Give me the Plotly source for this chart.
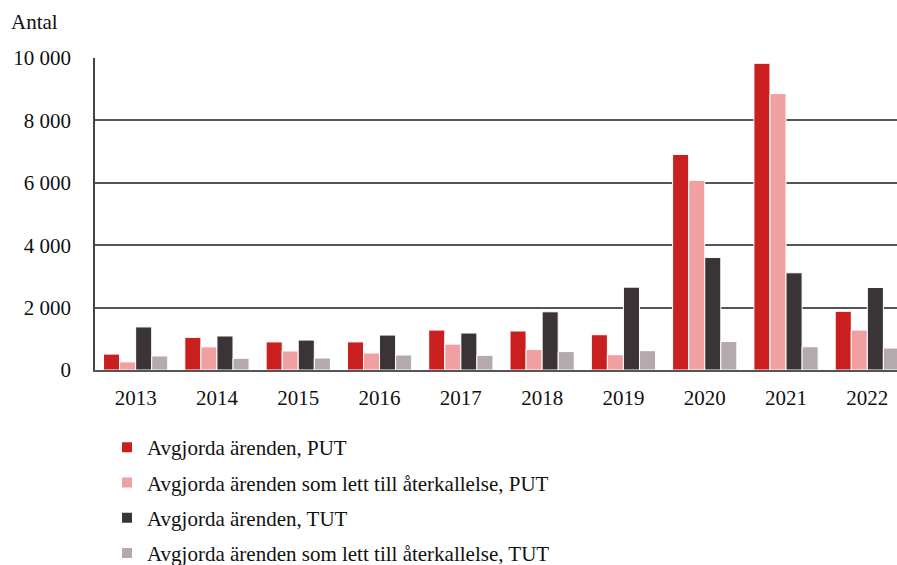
import plotly.graph_objects as go

years = ["2013", "2014", "2015", "2016", "2017", "2018", "2019", "2020", "2021", "2022"]
put_avgjorda = [510, 1045, 900, 900, 1280, 1250, 1130, 6910, 9830, 1880]
put_aterkallelse = [260, 740, 610, 545, 830, 660, 490, 6080, 8860, 1280]
tut_avgjorda = [1380, 1090, 960, 1120, 1185, 1865, 2655, 3605, 3115, 2645]
tut_aterkallelse = [450, 375, 385, 480, 470, 590, 620, 915, 745, 705]

names = [
    "Avgjorda ärenden, PUT",
    "Avgjorda ärenden som lett till återkallelse, PUT",
    "Avgjorda ärenden, TUT",
    "Avgjorda ärenden som lett till återkallelse, TUT",
]
colors = ["#C91F1F", "#F0A0A1", "#3A3436", "#B4AAAE"]
series = [put_avgjorda, put_aterkallelse, tut_avgjorda, tut_aterkallelse]

font_family = "Liberation Serif, DejaVu Serif, serif"
fs = 21

fig = go.Figure()
for i, (n, c, s) in enumerate(zip(names, colors, series)):
    fig.add_trace(go.Bar(
        x=years, y=s, name=n, marker_color=c,
        marker_line_color="white", marker_line_width=1,
        legendgroup=f"g{i}",
    ))

fig.update_layout(
    width=897, height=565,
    margin=dict(l=95, r=0, t=58, b=195, autoexpand=False),
    paper_bgcolor="white", plot_bgcolor="white",
    barmode="group", bargap=0.21, bargroupgap=0,
    separators=", ",
    font=dict(family=font_family, size=fs, color="#111111"),
    showlegend=True,
    legend=dict(
        orientation="v", xref="container", yref="container",
        x=107 / 897, y=1 - 427 / 565, xanchor="left", yanchor="top",
        font=dict(family=font_family, size=fs, color="#111111"),
        tracegroupgap=5, itemsizing="constant",
    ),
    annotations=[dict(
        text="Antal", xref="paper", yref="paper", x=0, xshift=-86,
        y=(370 - 22) / 312, xanchor="left", yanchor="middle", showarrow=False,
        font=dict(family=font_family, size=fs, color="#111111"),
    )],
)
fig.update_xaxes(
    type="category", range=[-0.5, 9.365],
    showline=True, linecolor="#555555", linewidth=2,
    ticks="", showgrid=False, ticklabelstandoff=8, tickangle=0,
    tickfont=dict(family=font_family, size=fs, color="#111111"),
)
fig.update_yaxes(
    range=[0, 10000], tickvals=[0, 2000, 4000, 6000, 8000, 10000],
    tickformat=",d", showgrid=True, gridcolor="#555555", gridwidth=1.5,
    showline=True, linecolor="#444444", linewidth=1.5,
    ticks="", ticklabelstandoff=18, zeroline=False,
    tickfont=dict(family=font_family, size=fs, color="#111111"),
)

fig.write_html(
    "out.html",
    config={"displayModeBar": False},
    post_script="document.body.style.margin='0px';document.body.style.overflow='hidden';",
)
